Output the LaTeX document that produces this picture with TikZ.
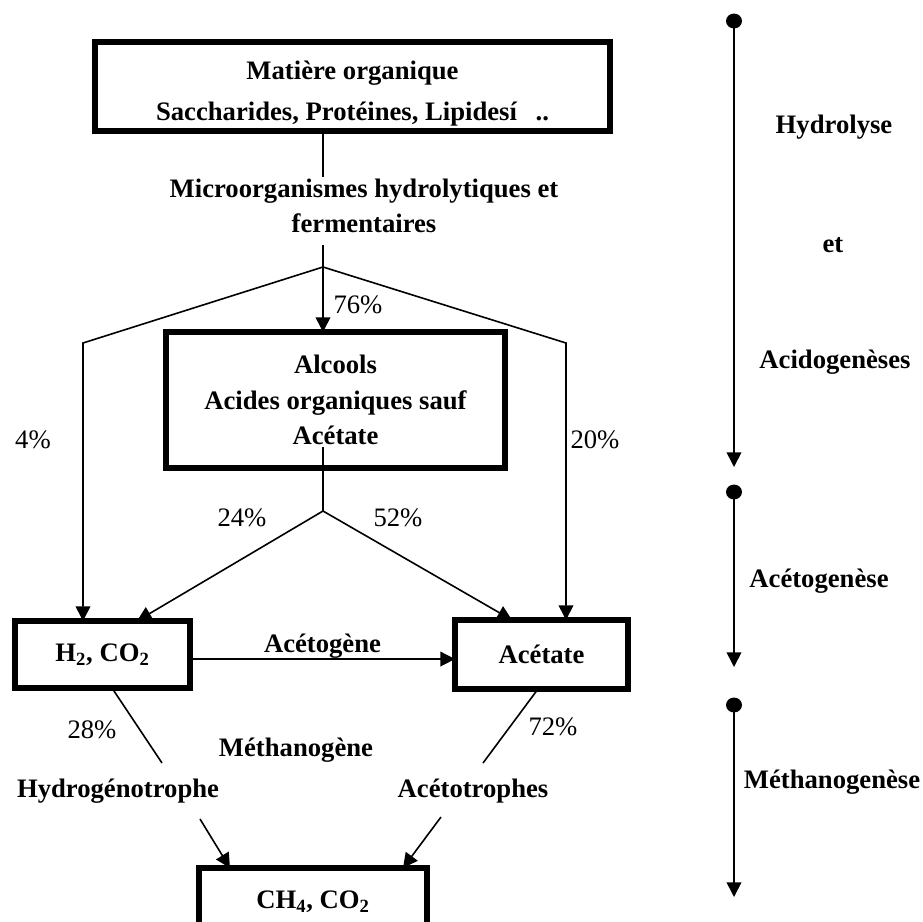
\documentclass[tikz,border=0pt]{standalone}
\usepackage{fontspec}
\setmainfont{Liberation Serif}
\usetikzlibrary{arrows.meta}

\tikzset{
  box/.style={draw,line width=4pt,inner sep=0pt,outer sep=0pt,align=center,font=\bfseries\fontsize{20}{26.6}\selectfont},
  lbl/.style={font=\bfseries\fontsize{20}{26.3}\selectfont,align=center,inner sep=0pt},
  pct/.style={font=\fontsize{20}{24}\selectfont,inner sep=0pt},
  ln/.style={line width=1.2pt},
  arr/.style={line width=1.2pt,-{Triangle[length=11pt,width=11pt]}},
}

\begin{document}
\begin{tikzpicture}[x=0.75pt,y=-0.75pt]
\useasboundingbox (0,0) rectangle (923,921);
% boxes
\node[box,minimum width=386.25pt,minimum height=66.75pt,font=\bfseries\fontsize{20}{30.75}\selectfont] (mat) at (352.5,86.5) {\rule{0pt}{25pt}Matière organique\\Saccharides, Protéines, Lipidesí\hspace{0.7em}..};
\node[box,minimum width=254.25pt,minimum height=102pt] (alc) at (335.5,400) {\rule{0pt}{10pt}Alcools\\Acides organiques sauf\\Acétate};
\node[box,minimum width=131.25pt,minimum height=50.25pt] (h2) at (102.5,654.5) {H\textsubscript{2}, CO\textsubscript{2}};
\node[box,minimum width=129.75pt,minimum height=51.75pt] (acet) at (541.5,654.5) {Acétate};
\node[box,minimum width=171pt,minimum height=51pt] (ch4) at (313,902) {CH\textsubscript{4}, CO\textsubscript{2}};
% labels
\node[lbl] (micro) at (364,205.5) {Microorganismes hydrolytiques et\\fermentaires};
\node[lbl] (metha) at (296,750) {Méthanogène};
\node[lbl] (hydro) at (118,791) {Hydrogénotrophe};
\node[lbl] (aceto) at (473,791) {Acétotrophes};
\node[pct] (p76) at (358,305) {76\%};
\node[pct] (p4) at (33,440) {4\%};
\node[pct] (p20) at (595,440) {20\%};
\node[pct] (p24) at (242,518) {24\%};
\node[pct] (p52) at (398,518) {52\%};
\node[pct] (p28) at (92,730) {28\%};
\node[pct] (p72) at (553,727) {72\%};
% junctions
\coordinate (m1) at (323,177);
\coordinate (j0) at (323,245);
\coordinate (j1) at (323,267);
\coordinate (cl) at (83,343);
\coordinate (cr) at (566,343);
\coordinate (a0) at (323,447);
\coordinate (j2) at (323,511);
\coordinate (hl) at (162,763);
\coordinate (hb) at (200,819);
\coordinate (al) at (483,763);
\coordinate (ab) at (441,817);
% connectors
\draw[ln] (323,0 |- mat.south) -- (m1);
\draw[arr] (j0) -- (323,0 |- alc.north);
\draw[arr] (j1) -- (cl) -- (83,0 |- h2.north);
\draw[arr] (j1) -- (cr) -- (566,0 |- acet.north);
\draw[ln] (a0) -- (j2);
\draw[arr] (j2) -- (137,0 |- h2.north);
\draw[arr] (j2) -- (512,0 |- acet.north);
\draw[arr] ([yshift=-3.4pt]h2.east) -- ([yshift=-3.4pt]acet.west) node[lbl,midway,above=0pt] (acg) {Acétogène};
\draw[ln] (112,0 |- h2.south) -- (hl);
\draw[arr] (hb) -- (230,0 |- ch4.north);
\draw[ln] (538,0 |- acet.south) -- (al);
\draw[arr] (ab) -- (403,0 |- ch4.north);
% phases
\coordinate (s1) at (734,21);
\coordinate (e1) at (734,467);
\coordinate (s2) at (734,492);
\coordinate (e2) at (734,667);
\coordinate (s3) at (734,705);
\coordinate (e3) at (734,897);
\fill (s1) ellipse [x radius=6pt,y radius=5.6pt];
\fill (s2) ellipse [x radius=6pt,y radius=5.6pt];
\fill (s3) ellipse [x radius=6pt,y radius=5.6pt];
\draw[arr] (s1) -- (e1);
\draw[arr] (s2) -- (e2);
\draw[arr] (s3) -- (e3);
\node[lbl] (ph1) at (834,127) {Hydrolyse};
\node[lbl] (ph2) at (833,245) {et};
\node[lbl] (ph3) at (835,362) {Acidogenèses};
\node[lbl] (ph4) at (819,581) {Acétogenèse};
\node[lbl] (ph5) at (832,782) {Méthanogenèse};
\end{tikzpicture}
\end{document}
